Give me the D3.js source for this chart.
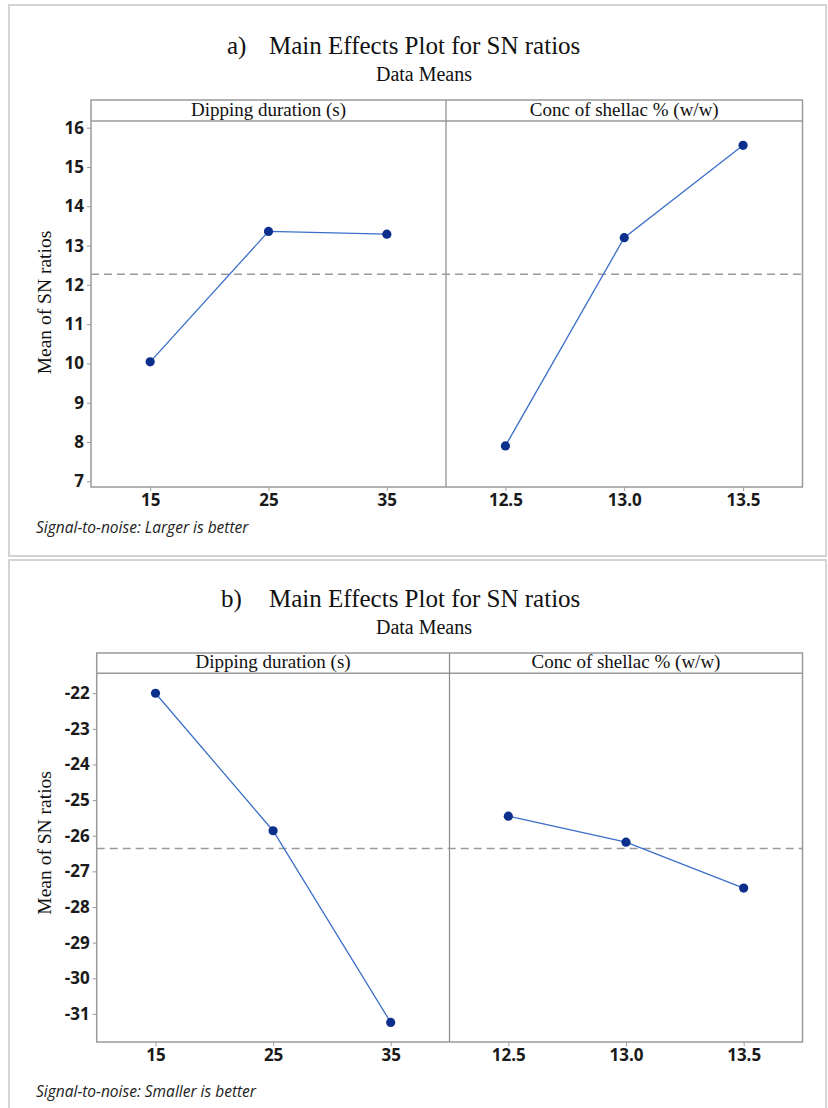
<!DOCTYPE html>
<html>
<head>
<meta charset="utf-8">
<script src="https://cdn.jsdelivr.net/npm/d3@7"></script>
<style>
  body { margin: 0; background: #fff; }
  svg { display: block; }
  .tick line { stroke: #9a9a9a; }
</style>
</head>
<body>
<svg width="828" height="1108"></svg>
<script>
// factor levels
var dipLevels = [15, 25, 35];
var concLevels = [12.5, 13.0, 13.5];
var concLabels = ["12.5", "13.0", "13.5"];
var factorNames = ["Dipping duration (s)", "Conc of shellac % (w/w)"];

// a) larger is better
var dipMeansA = [10.04, 13.36, 13.29];
var concMeansA = [7.9, 13.2, 15.55];
var grandMeanA = 12.27;
var yTicksA = [7, 8, 9, 10, 11, 12, 13, 14, 15, 16];

// b) smaller is better
var dipMeansB = [-22.0, -25.86, -31.24];
var concMeansB = [-25.45, -26.18, -27.47];
var grandMeanB = -26.36;
var yTicksB = [-31, -30, -29, -28, -27, -26, -25, -24, -23, -22];

var svg = d3.select("svg");
var serif = "Liberation Serif, serif";

function styleTicks(sel) {
    sel.select(".domain").remove();
    sel.selectAll(".tick text")
        .style("font-family", "Open Sans, sans-serif")
        .style("font-weight", "700")
        .style("font-size", "17px")
        .attr("fill", "#1a1a1a");
}

function drawPanel(p) {
    var g = svg.append("g");

    // outer frame of the figure
    g.append("rect")
        .attr("x", 9).attr("y", p.frameTop)
        .attr("width", 817).attr("height", p.frameH)
        .attr("fill", "none").attr("stroke", "#d4d4d4").attr("stroke-width", 2);

    g.append("text")
        .attr("x", p.titleX).attr("y", p.titleY)
        .style("font-family", serif).style("font-size", "25px")
        .attr("fill", "#111")
        .text(p.letter);
    g.append("text")
        .attr("x", 269).attr("y", p.titleY)
        .style("font-family", serif).style("font-size", "25px")
        .attr("fill", "#111")
        .text("Main Effects Plot for SN ratios");
    g.append("text")
        .attr("x", 424).attr("y", p.titleY + 27)
        .attr("text-anchor", "middle")
        .style("font-family", serif).style("font-size", "20px")
        .attr("fill", "#111")
        .text("Data Means");

    var y = d3.scaleLinear().domain(p.yDomain).range([p.bottom, p.header]);
    var xDip = d3.scaleLinear().domain([10, 40]).range([p.left, p.divider]);
    var xConc = d3.scaleLinear().domain([12.25, 13.75]).range([p.divider, p.right]);

    // box with strip header
    g.append("rect")
        .attr("x", p.left).attr("y", p.stripTop)
        .attr("width", p.right - p.left).attr("height", p.bottom - p.stripTop)
        .attr("fill", "none").attr("stroke", "#9a9a9a").attr("stroke-width", 1.5);
    g.append("line")
        .attr("x1", p.left).attr("x2", p.right)
        .attr("y1", p.header).attr("y2", p.header)
        .attr("stroke", "#9a9a9a").attr("stroke-width", 1.5);
    g.append("line")
        .attr("x1", p.divider).attr("x2", p.divider)
        .attr("y1", p.stripTop).attr("y2", p.bottom)
        .attr("stroke", "#8a8a8a").attr("stroke-width", 1.2);

    [[p.left, p.divider], [p.divider, p.right]].forEach(function(r, i) {
        g.append("text")
            .attr("x", (r[0] + r[1]) / 2).attr("y", p.header - 5)
            .attr("text-anchor", "middle")
            .style("font-family", serif).style("font-size", "19px")
            .attr("fill", "#111")
            .text(factorNames[i]);
    });

    // axes
    g.append("g").attr("transform", "translate(" + p.left + ",0)")
        .call(d3.axisLeft(y).tickValues(p.yTicks)
            .tickFormat(function(d) { return String(d); })
            .tickSize(4).tickPadding(3))
        .call(styleTicks);

    g.append("g").attr("transform", "translate(0," + p.bottom + ")")
        .call(d3.axisBottom(xDip).tickValues(dipLevels)
            .tickFormat(function(d) { return String(d); })
            .tickSize(4).tickPadding(3))
        .call(styleTicks);
    g.append("g").attr("transform", "translate(0," + p.bottom + ")")
        .call(d3.axisBottom(xConc).tickValues(concLevels)
            .tickFormat(function(d, i) { return concLabels[i]; })
            .tickSize(4).tickPadding(3))
        .call(styleTicks);

    // y label
    g.append("text")
        .attr("transform", "translate(51," + y(p.labelAt) + ") rotate(-90)")
        .attr("text-anchor", "middle")
        .style("font-family", serif).style("font-size", "19.5px")
        .attr("fill", "#111")
        .text("Mean of SN ratios");

    // grand mean reference line
    g.append("line")
        .attr("x1", p.left).attr("x2", p.right)
        .attr("y1", y(p.grand)).attr("y2", y(p.grand))
        .attr("stroke", "#9a9a9a").attr("stroke-width", 1.5)
        .attr("stroke-dasharray", "8,5");

    var series = [
        { x: xDip, lv: dipLevels, m: p.dip },
        { x: xConc, lv: concLevels, m: p.conc }
    ];
    series.forEach(function(s) {
        var pts = s.lv.map(function(v, i) { return [s.x(v), y(s.m[i])]; });
        g.append("path")
            .attr("d", d3.line()(pts))
            .attr("fill", "none").attr("stroke", "#3b6fc9").attr("stroke-width", 1.3);
        g.selectAll(null).data(pts).enter().append("circle")
            .attr("cx", function(d) { return d[0]; })
            .attr("cy", function(d) { return d[1]; })
            .attr("r", 4.6)
            .attr("fill", "#0b2f8a");
    });

    g.append("text")
        .attr("x", 36).attr("y", p.noteY)
        .style("font-family", "Open Sans, sans-serif").style("font-style", "italic")
        .style("font-size", "15.5px")
        .attr("fill", "#222")
        .text(p.note);
}

drawPanel({
    letter: "a)", titleX: 227, titleY: 54,
    frameTop: 5, frameH: 551,
    left: 91, right: 802.5, divider: 446,
    stripTop: 100, header: 121, bottom: 487,
    yDomain: [6.855, 16.17], yTicks: yTicksA, labelAt: 11.55,
    dip: dipMeansA, conc: concMeansA, grand: grandMeanA,
    noteY: 533, note: "Signal-to-noise: Larger is better"
});

drawPanel({
    letter: "b)", titleX: 221, titleY: 607,
    frameTop: 560, frameH: 560,
    left: 96.7, right: 802.5, divider: 449.5,
    stripTop: 653, header: 673.3, bottom: 1042,
    yDomain: [-31.79, -21.44], yTicks: yTicksB, labelAt: -26.2,
    dip: dipMeansB, conc: concMeansB, grand: grandMeanB,
    noteY: 1097, note: "Signal-to-noise: Smaller is better"
});
</script>
</body>
</html>
